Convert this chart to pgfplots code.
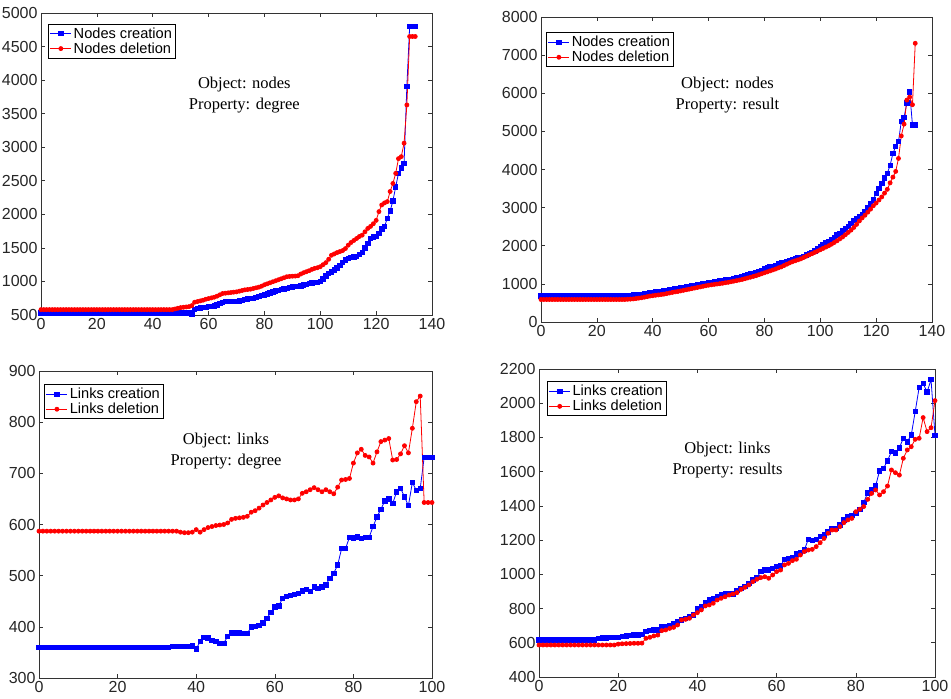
\documentclass[border=0pt]{standalone}
\usepackage{fontspec}
\setmainfont{Liberation Sans}
\newfontfamily\serif{Liberation Serif}
\usepackage{pgfplots}
\pgfplotsset{compat=1.18}
\tikzset{ann/.style={font=\serif\fontsize{16.5}{21}\selectfont, align=center}}
\pgfplotsset{
  mstyle/.style={scale only axis, clip=false,
    axis line style={line width=0.7pt, black!80},
    tick style={black!80, line width=0.6pt},
    major tick length=4pt, tick align=inside,
    xtick pos=both, ytick pos=both, scaled ticks=false,
    tick label style={font=\fontsize{16}{17}\selectfont, text=black!85},
    /pgf/number format/assume math mode=true,
    /pgf/number format/set thousands separator={},
    legend cell align=left,
    legend image code/.code={\draw[mark repeat=2,mark phase=2] plot coordinates {(0pt,0pt) (10.5pt,0pt) (21pt,0pt)};},
    legend style={font=\fontsize{14.6}{16}\selectfont, draw=black, line width=0.8pt, inner sep=1.5pt, row sep=-1pt, anchor=north west},
  },
  bl/.style={blue, line width=0.8pt, mark=square*, mark size=2.2pt, mark options={solid, fill=blue}},
  rd/.style={red, line width=0.8pt, mark=*, mark size=2pt, mark options={solid, fill=red}},
}
\begin{document}
\begin{tikzpicture}[x=1pt,y=1pt]
\useasboundingbox (0,0) rectangle (951,699);

% ---------------- Panel 1 ----------------
\begin{axis}[mstyle, at={(41pt,384pt)}, anchor=south west, width=391pt, height=302pt,
  xmin=0, xmax=140, ymin=500, ymax=5000, xtick={0,20,...,140}, ytick={500,1000,...,5000},
  legend style={at={(0.018,0.965)}}]
\addplot[bl] coordinates {
(0,530)(1,530)(2,530)(3,530)(4,530)(5,530)(6,530)(7,530)(8,530)(9,530)
(10,530)(11,530)(12,530)(13,530)(14,530)(15,530)(16,530)(17,530)(18,530)(19,530)
(20,530)(21,530)(22,530)(23,530)(24,530)(25,530)(26,530)(27,530)(28,530)(29,530)
(30,530)(31,530)(32,530)(33,530)(34,530)(35,530)(36,530)(37,530)(38,530)(39,530)
(40,530)(41,530)(42,530)(43,530)(44,530)(45,530)(46,530)(47,530)(48,530)(49,530)
(50,530)(51,530)(52,530)(53,530)(54,510)(55,580)(56,600)(57,605)(58,610)(59,615)
(60,625)(61,630)(62,635)(63,650)(64,675)(65,690)(66,700)(67,700)(68,700)(69,705)
(70,705)(71,710)(72,720)(73,730)(74,740)(75,745)(76,750)(77,760)(78,775)(79,790)
(80,800)(81,815)(82,830)(83,845)(84,860)(85,870)(86,880)(87,890)(88,900)(89,910)
(90,920)(91,925)(92,930)(93,935)(94,950)(95,960)(96,970)(97,980)(98,985)(99,990)
(100,1000)(101,1040)(102,1080)(103,1120)(104,1140)(105,1170)(106,1200)(107,1240)(108,1280)(109,1320)
(110,1345)(111,1360)(112,1365)(113,1375)(114,1400)(115,1430)(116,1500)(117,1570)(118,1640)(119,1665)
(120,1670)(121,1720)(122,1780)(123,1820)(124,1940)(125,2050)(126,2200)(127,2410)(128,2610)(129,2690)
(130,2760)(131,3910)(132,4800)(133,4800)(134,4800)
};
\addlegendentry{Nodes creation}
\addplot[rd] coordinates {
(0,580)(1,580)(2,580)(3,580)(4,580)(5,580)(6,580)(7,580)(8,580)(9,580)
(10,580)(11,580)(12,580)(13,580)(14,580)(15,580)(16,580)(17,580)(18,580)(19,580)
(20,580)(21,580)(22,580)(23,580)(24,580)(25,580)(26,580)(27,580)(28,580)(29,580)
(30,580)(31,580)(32,580)(33,580)(34,580)(35,580)(36,580)(37,580)(38,580)(39,580)
(40,580)(41,580)(42,580)(43,580)(44,580)(45,580)(46,580)(47,580)(48,590)(49,600)
(50,610)(51,615)(52,620)(53,625)(54,640)(55,690)(56,700)(57,710)(58,720)(59,735)
(60,745)(61,755)(62,765)(63,780)(64,800)(65,820)(66,825)(67,830)(68,835)(69,840)
(70,845)(71,855)(72,865)(73,875)(74,880)(75,885)(76,895)(77,905)(78,915)(79,930)
(80,950)(81,965)(82,980)(83,995)(84,1010)(85,1025)(86,1040)(87,1055)(88,1070)(89,1075)
(90,1078)(91,1080)(92,1085)(93,1110)(94,1130)(95,1145)(96,1160)(97,1180)(98,1195)(99,1205)
(100,1220)(101,1250)(102,1280)(103,1330)(104,1390)(105,1410)(106,1430)(107,1445)(108,1460)(109,1490)
(110,1540)(111,1580)(112,1610)(113,1640)(114,1670)(115,1690)(116,1740)(117,1790)(118,1820)(119,1860)
(120,1910)(121,2040)(122,2140)(123,2170)(124,2190)(125,2340)(126,2460)(127,2610)(128,2830)(129,2860)
(130,3060)(131,3630)(132,4650)(133,4650)(134,4650)
};
\addlegendentry{Nodes deletion}
\node[ann] at (rel axis cs:0.52,0.727) {Object: nodes\\Property: degree};
\end{axis}

% ---------------- Panel 2 ----------------
\begin{axis}[mstyle, at={(541pt,377pt)}, anchor=south west, width=391pt, height=305pt,
  xmin=0, xmax=140, ymin=0, ymax=8000, xtick={0,20,...,140}, ytick={0,1000,...,8000},
  legend style={at={(0.013,0.95)}}]
\addplot[bl] coordinates {
(0,680)(1,680)(2,680)(3,680)(4,680)(5,680)(6,680)(7,680)(8,680)(9,680)
(10,680)(11,680)(12,680)(13,680)(14,680)(15,680)(16,680)(17,680)(18,680)(19,680)
(20,680)(21,680)(22,680)(23,680)(24,680)(25,680)(26,680)(27,680)(28,695)(29,700)
(30,700)(31,705)(32,705)(33,710)(34,715)(35,720)(36,730)(37,740)(38,750)(39,760)
(40,775)(41,785)(42,795)(43,805)(44,815)(45,830)(46,840)(47,855)(48,865)(49,880)
(50,895)(51,910)(52,920)(53,935)(54,950)(55,960)(56,975)(57,990)(58,1005)(59,1020)
(60,1035)(61,1045)(62,1055)(63,1065)(64,1075)(65,1085)(66,1100)(67,1110)(68,1125)(69,1140)
(70,1160)(71,1175)(72,1195)(73,1215)(74,1235)(75,1260)(76,1280)(77,1305)(78,1330)(79,1360)
(80,1390)(81,1415)(82,1440)(83,1465)(84,1490)(85,1520)(86,1545)(87,1565)(88,1590)(89,1610)
(90,1630)(91,1655)(92,1680)(93,1700)(94,1725)(95,1760)(96,1795)(97,1830)(98,1870)(99,1920)
(100,1970)(101,2020)(102,2070)(103,2120)(104,2170)(105,2225)(106,2280)(107,2330)(108,2390)(109,2440)
(110,2500)(111,2580)(112,2660)(113,2710)(114,2760)(115,2830)(116,2900)(117,3000)(118,3100)(119,3200)
(120,3380)(121,3500)(122,3640)(123,3780)(124,3900)(125,4110)(126,4420)(127,4600)(128,4730)(129,5260)
(130,5370)(131,5750)(132,6040)(133,5170)(134,5170)
};
\addlegendentry{Nodes creation}
\addplot[rd] coordinates {
(0,590)(1,590)(2,590)(3,590)(4,590)(5,590)(6,590)(7,590)(8,590)(9,590)
(10,590)(11,590)(12,590)(13,590)(14,590)(15,590)(16,590)(17,590)(18,590)(19,590)
(20,590)(21,590)(22,590)(23,590)(24,590)(25,590)(26,590)(27,590)(28,590)(29,590)
(30,590)(31,595)(32,600)(33,605)(34,615)(35,625)(36,635)(37,650)(38,665)(39,680)
(40,690)(41,700)(42,710)(43,720)(44,730)(45,745)(46,760)(47,775)(48,790)(49,800)
(50,815)(51,830)(52,845)(53,860)(54,875)(55,890)(56,905)(57,920)(58,935)(59,950)
(60,965)(61,975)(62,985)(63,995)(64,1005)(65,1015)(66,1030)(67,1040)(68,1055)(69,1070)
(70,1085)(71,1100)(72,1115)(73,1135)(74,1155)(75,1175)(76,1195)(77,1215)(78,1240)(79,1265)
(80,1290)(81,1315)(82,1340)(83,1365)(84,1390)(85,1420)(86,1445)(87,1480)(88,1515)(89,1550)
(90,1580)(91,1605)(92,1630)(93,1655)(94,1690)(95,1725)(96,1760)(97,1790)(98,1825)(99,1860)
(100,1895)(101,1930)(102,1965)(103,2000)(104,2040)(105,2085)(106,2130)(107,2180)(108,2230)(109,2290)
(110,2350)(111,2410)(112,2480)(113,2560)(114,2650)(115,2730)(116,2800)(117,2880)(118,2960)(119,3050)
(120,3120)(121,3200)(122,3280)(123,3380)(124,3480)(125,3650)(126,3800)(127,3950)(128,4290)(129,4880)
(130,5190)(131,5820)(132,5900)(133,5700)(134,7310)
};
\addlegendentry{Nodes deletion}
\node[ann] at (rel axis cs:0.477,0.743) {Object: nodes\\Property: result};
\end{axis}

% ---------------- Panel 3 ----------------
\begin{axis}[mstyle, at={(39pt,21pt)}, anchor=south west, width=393pt, height=307pt,
  xmin=0, xmax=100, ymin=300, ymax=900, xtick={0,20,...,100}, ytick={300,400,...,900},
  legend style={at={(0.013,0.957)}}]
\addplot[bl] coordinates {
(0,360)(1,360)(2,360)(3,360)(4,360)(5,360)(6,360)(7,360)(8,360)(9,360)
(10,360)(11,360)(12,360)(13,360)(14,360)(15,360)(16,360)(17,360)(18,360)(19,360)
(20,360)(21,360)(22,360)(23,360)(24,360)(25,360)(26,360)(27,360)(28,360)(29,360)
(30,360)(31,360)(32,360)(33,360)(34,362)(35,362)(36,362)(37,362)(38,362)(39,363)
(40,357)(41,371)(42,379)(43,378)(44,374)(45,371)(46,368)(47,368)(48,381)(49,388)
(50,388)(51,388)(52,387)(53,387)(54,400)(55,401)(56,403)(57,408)(58,417)(59,428)
(60,439)(61,441)(62,456)(63,459)(64,462)(65,463)(66,465)(67,470)(68,473)(69,469)
(70,478)(71,475)(72,478)(73,482)(74,495)(75,505)(76,521)(77,553)(78,553)(79,575)
(80,574)(81,576)(82,573)(83,575)(84,575)(85,596)(86,615)(87,630)(88,646)(89,650)
(90,641)(91,664)(92,671)(93,654)(94,637)(95,682)(96,667)(97,670)(98,731)(99,731)
(100,731)
};
\addlegendentry{Links creation}
\addplot[rd] coordinates {
(0,587)(1,587)(2,587)(3,587)(4,587)(5,587)(6,587)(7,587)(8,587)(9,587)
(10,587)(11,587)(12,587)(13,587)(14,587)(15,587)(16,587)(17,587)(18,587)(19,587)
(20,587)(21,587)(22,587)(23,587)(24,587)(25,587)(26,587)(27,587)(28,587)(29,587)
(30,587)(31,587)(32,587)(33,587)(34,587)(35,587)(36,585)(37,584)(38,584)(39,585)
(40,590)(41,585)(42,590)(43,594)(44,596)(45,598)(46,599)(47,600)(48,603)(49,610)
(50,612)(51,613)(52,614)(53,616)(54,624)(55,627)(56,632)(57,638)(58,643)(59,648)
(60,653)(61,656)(62,652)(63,650)(64,648)(65,648)(66,650)(67,661)(68,664)(69,668)
(70,672)(71,668)(72,664)(73,668)(74,664)(75,660)(76,673)(77,687)(78,688)(79,690)
(80,720)(81,740)(82,747)(83,735)(84,732)(85,720)(86,742)(87,762)(88,765)(89,768)
(90,726)(91,727)(92,738)(93,754)(94,740)(95,788)(96,840)(97,851)(98,643)(99,643)
(100,643)
};
\addlegendentry{Links deletion}
\node[ann] at (rel axis cs:0.476,0.739) {Object: links\\Property: degree};
\end{axis}

% ---------------- Panel 4 ----------------
\begin{axis}[mstyle, at={(539pt,22pt)}, anchor=south west, width=396pt, height=308pt,
  xmin=0, xmax=100, ymin=400, ymax=2200, xtick={0,20,...,100}, ytick={400,600,...,2200},
  legend style={at={(0.02,0.96)}}]
\addplot[bl] coordinates {
(0,616)(1,616)(2,616)(3,616)(4,616)(5,616)(6,616)(7,616)(8,616)(9,616)
(10,616)(11,616)(12,616)(13,616)(14,616)(15,626)(16,628)(17,628)(18,630)(19,630)
(20,632)(21,636)(22,640)(23,643)(24,645)(25,645)(26,648)(27,665)(28,671)(29,675)
(30,675)(31,694)(32,696)(33,698)(34,714)(35,723)(36,733)(37,743)(38,753)(39,762)
(40,801)(41,811)(42,834)(43,850)(44,860)(45,869)(46,879)(47,885)(48,885)(49,885)
(50,905)(51,918)(52,928)(53,947)(54,967)(55,981)(56,1016)(57,1025)(58,1025)(59,1035)
(60,1045)(61,1049)(62,1088)(63,1092)(64,1099)(65,1119)(66,1127)(67,1142)(68,1205)(69,1200)
(70,1205)(71,1220)(72,1230)(73,1249)(74,1269)(75,1269)(76,1288)(77,1318)(78,1337)(79,1343)
(80,1357)(81,1380)(82,1420)(83,1477)(84,1493)(85,1516)(86,1605)(87,1620)(88,1664)(89,1717)
(90,1710)(91,1740)(92,1795)(93,1775)(94,1814)(95,1951)(96,2093)(97,2116)(98,2065)(99,2138)
(100,1812)
};
\addlegendentry{Links creation}
\addplot[rd] coordinates {
(0,587)(1,587)(2,587)(3,587)(4,587)(5,587)(6,587)(7,587)(8,587)(9,587)
(10,587)(11,587)(12,587)(13,587)(14,587)(15,587)(16,587)(17,587)(18,587)(19,587)
(20,592)(21,594)(22,595)(23,596)(24,597)(25,597)(26,598)(27,626)(28,632)(29,640)
(30,645)(31,671)(32,675)(33,684)(34,690)(35,704)(36,733)(37,737)(38,743)(39,762)
(40,776)(41,792)(42,815)(43,821)(44,831)(45,850)(46,860)(47,869)(48,879)(49,885)
(50,893)(51,912)(52,924)(53,938)(54,957)(55,971)(56,981)(57,986)(58,977)(59,996)
(60,1016)(61,1025)(62,1055)(63,1064)(64,1080)(65,1088)(66,1113)(67,1133)(68,1142)(69,1146)
(70,1162)(71,1185)(72,1210)(73,1240)(74,1259)(75,1259)(76,1279)(77,1302)(78,1318)(79,1327)
(80,1366)(81,1380)(82,1396)(83,1438)(84,1473)(85,1493)(86,1464)(87,1483)(88,1516)(89,1610)
(90,1594)(91,1580)(92,1678)(93,1727)(94,1746)(95,1789)(96,1795)(97,1916)(98,1834)(99,1857)
(100,2015)
};
\addlegendentry{Links deletion}
\node[ann] at (rel axis cs:0.476,0.703) {Object: links\\Property: results};
\end{axis}
\end{tikzpicture}
\end{document}
